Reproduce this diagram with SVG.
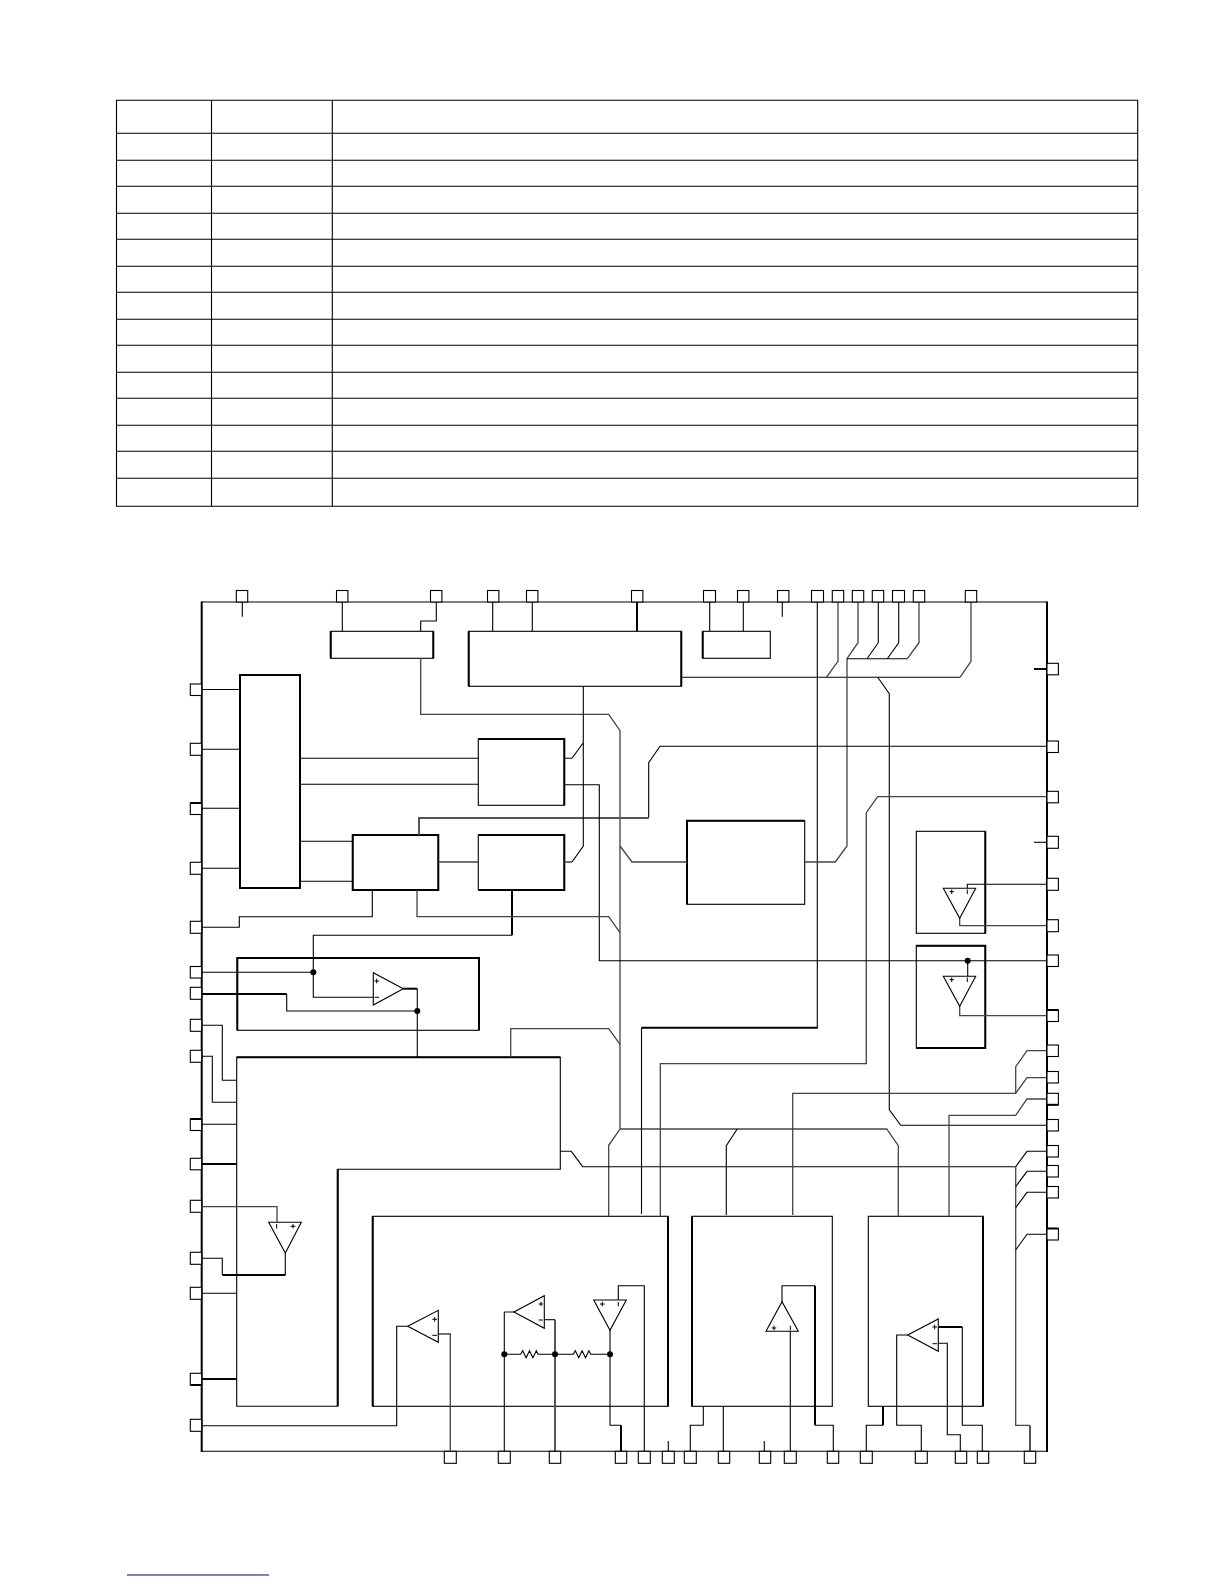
<svg xmlns="http://www.w3.org/2000/svg" width="1224" height="1584" viewBox="0 0 1224 1584">
<style>
.bg{fill:#fff}
path,rect,polygon,line{stroke-linejoin:miter}
.n{fill:#fff;stroke:#000;stroke-width:1.1}
.p{fill:#fff;stroke:#000;stroke-width:1.1}
.t{fill:none;stroke:#000;stroke-width:2}
.c{fill:none;stroke:#000;stroke-width:1.1}
.g{fill:none;stroke:#444;stroke-width:1.3}
.h{fill:none;stroke:#000;stroke-width:2}
.m{fill:none;stroke:#555;stroke-width:2}
.o{fill:none;stroke:#000;stroke-width:1}
.a{fill:#fff;stroke:#000;stroke-width:1.1}
.d{fill:#000}
</style>
<rect class="bg" width="1224" height="1584"/>
<g id="table" class="c">
<path d="M116.5 100.3H1137.7V506.3H116.5ZM211.5 100.3V506.3M332.3 100.3V506.3M116.5 133.3H1137.7M116.5 160.3H1137.7M116.5 186.3H1137.7M116.5 213.3H1137.7M116.5 239.3H1137.7M116.5 266.3H1137.7M116.5 292.3H1137.7M116.5 319.3H1137.7M116.5 345.3H1137.7M116.5 372.3H1137.7M116.5 398.3H1137.7M116.5 425.3H1137.7M116.5 451.3H1137.7M116.5 478.3H1137.7"/>
</g>
<line id="footer-rule" x1="127" y1="1575" x2="269" y2="1575" stroke="#00008b" stroke-width="1.2"/>
<g id="chip-frame">
<path class="c" d="M201.7 602H1047M201.7 1451.3H1047"/>
<path class="t" d="M201.7 601.500V1452M1047 601.500V1452"/>
</g>
<g id="blocks">
<g id="box-a"><rect class="n" x="330.7" y="631.3" width="102.6" height="27"/><path class="t" d="M330.7 631.300V658.300M433.300 631.300V658.300"/></g>
<g id="box-b"><rect class="n" x="468.7" y="631.3" width="212.6" height="55"/><path class="t" d="M468.7 631.300V686.300M681.300 631.300V686.300"/></g>
<g id="box-c"><rect class="n" x="702.7" y="631.3" width="67.6" height="27"/><path class="t" d="M702.7 631.300V658.300"/></g>
<g id="box-j"><rect class="n" x="240" y="675" width="60" height="213"/><path class="t" d="M240 675H300V888H240Z"/></g>
<g id="box-g"><rect class="n" x="478.3" y="739" width="86" height="66.3"/><path class="t" d="M478.3 739H564.300V805.300"/></g>
<g id="box-h"><rect class="n" x="478.3" y="835" width="86" height="55"/><path class="t" d="M478.3 835H564.300V890H478.300"/></g>
<g id="box-i"><rect class="n" x="352.7" y="835" width="85.6" height="55"/><path class="t" d="M352.7 835H438.300V890H352.700Z"/></g>
<g id="box-d"><rect class="n" x="687" y="820.7" width="117.7" height="83.6"/><path class="t" d="M687 904.300V820.700H804.700"/></g>
<g id="box-e"><rect class="n" x="916.3" y="831.3" width="69" height="102"/><path class="t" d="M985.3 831.300V933.300"/></g>
<g id="box-f"><rect class="n" x="916.3" y="945.7" width="69" height="102.3"/><path class="t" d="M916.3 945.700H985.300V1048H916.300"/></g>
<g id="box-l"><rect class="n" x="237.3" y="958" width="241.7" height="72.3"/><path class="t" d="M237.3 1030.300V958H479V1030.300"/></g>
<g id="box-m"><path class="n" d="M236.7 1057.3H560.3V1169.3H337.7V1406.3H236.7Z"/><path class="t" d="M236.7 1057.300H560.300M337.700 1169.300V1406.300"/></g>
<g id="box-p"><rect class="n" x="372.7" y="1216.3" width="295.3" height="190"/><path class="t" d="M372.7 1216.300V1406.300M668 1216.300V1406.300"/></g>
<g id="box-s"><rect class="n" x="692" y="1216.3" width="140.3" height="190"/><path class="t" d="M692 1216.300V1406.300"/></g>
<g id="box-t"><rect class="n" x="868.3" y="1216.3" width="114.7" height="190"/><path class="t" d="M983 1216.300V1406.300"/></g>
</g>
<g id="connectors">
<path class="c" d="M242.3 602V616.7M342.3 602V631.3M492.7 602V631.3M532.3 602V631.3M709.7 602V631.3M743.3 602V631.3M782.3 602V616.7M668.3 1441V1451M764.3 1441V1451"/>
<path class="t" d="M637 602V631.3"/>
<path class="c" d="M436.3 602V621H420.7V631.3"/>
<path class="g" d="M420.7 658.3V714.3H608.7L620 730.7V1129L608.7 1145.3V1216.3"/>
<path class="g" d="M620 1129H886.7L898.3 1145.7V1216.3"/>
<path class="c" d="M737.3 1129L726.3 1145.7V1215"/>
<path class="c" d="M817.3 602V1027.7"/><path class="h" d="M817.8 1027.7H641.5"/><path class="c" d="M641.5 1027.7V1214"/>
<path class="c" d="M681.3 677.3H960"/><path class="g" d="M960 677.3L971 661.3V602M838 602V661.3L826.3 677.3"/>
<path class="g" d="M858 602V642.7L847 658.7V846L835.3 862H804.7"/>
<path class="c" d="M847 658.7H907.3"/><path class="g" d="M907.3 658.7L919 642.7V602"/>
<path class="c" d="M878.3 602V642.7L867 658.7M898.7 602V642.7L887.3 658.7"/>
<path class="g" d="M687 862H632L620 846"/>
<path class="c" d="M877.7 677.3L889.3 693.7V1109.7L900.7 1125.3H1047"/>
<path class="c" d="M1047 746.3H660L648.7 762.7V818"/><path class="m" d="M648.7 818H419V835"/>
<path class="g" d="M1047 796.7H877.7L866.3 812.7V1063.7H660.3V1216.3"/>
<path class="h" d="M1034 669H1047"/><path class="c" d="M1034 842.3H1047"/>
<path class="c" d="M1047 884.3H967.3V888.3"/><path class="g" d="M959.7 918.3V925.7H1047M959.7 1006.3V1015.7H1047"/>
<path class="c" d="M1047 960.7H599.3V784.7H564.3M967.7 960.7V976.3"/>
<path class="c" d="M300 758.3H478.3M300 784.3H478.3M300 841.3H352.7M300 881.3H352.7"/>
<path class="g" d="M438.3 862H478.3M564.3 862H572"/>
<path class="c" d="M572 862L583.3 846V686.3M564.3 758.3H572L583.3 742.7"/>
<path class="h" d="M512 890V935.3"/><path class="c" d="M512 935.3H313.3V997.3H373.3M201.7 972.3H313.3"/>
<path class="h" d="M403.3 988.7H417.3"/><path class="c" d="M417.3 988.7V1057.3"/>
<path class="h" d="M201.7 994H286.7"/><path class="c" d="M286.7 994V1011H417.3"/>
<path class="c" d="M201.7 689.5H240M201.7 749.3H240M201.7 808.3H240M201.7 868.3H240"/>
<path class="c" d="M201.7 927.3H239.3V916.7H372.3V890"/>
<path class="g" d="M417 890V916.7H608.7L620 932.7"/>
<path class="c" d="M201.7 1025.3H222.3V1080.3H236.7M201.7 1056.3H212.3V1102.3H236.7M201.7 1124.3H236.7M201.7 1293.3H236.7"/>
<path class="h" d="M201.7 1164H236.7M201.7 1379H236.7"/>
<path class="g" d="M201.7 1206.7H277V1222.3"/>
<path class="c" d="M285.3 1253V1275"/><path class="h" d="M285.3 1275H222.3"/><path class="c" d="M222.3 1275V1258.3H201.7"/>
<path class="c" d="M201.7 1425.7H396.7V1326.3H407.7"/>
<path class="g" d="M438.3 1334H450.3V1451"/>
<path class="g" d="M514 1312H504.3"/><path class="c" d="M504.3 1312V1451"/>
<path class="c" d="M544.3 1319.7H555"/><path class="m" d="M555 1319.7V1451"/>
<path class="c" d="M504.3 1354.3H520.7l2-3.5 3.400 7 3.400-7 3.400 7 3.400-7 1.700 3.500H573.300l2-3.500 3.400 7 3.400-7 3.400 7 3.400-7 1.800 3.500H610"/>
<path class="c" d="M610 1330.3V1425.3H621"/><path class="h" d="M621 1425.3V1451"/>
<path class="c" d="M618.3 1300V1285.7H644.3V1451"/>
<path class="c" d="M782 1301.700V1285.7H815"/><path class="h" d="M815 1285.7V1425.3"/><path class="c" d="M815 1425.3H833.3V1451M790.3 1331.3V1451"/>
<path class="c" d="M703.3 1406.3V1425.3H690.3V1451M723.3 1406.3V1451"/>
<path class="h" d="M883 1406.3V1425.3"/><path class="c" d="M883 1425.3H866.3V1451"/>
<path class="c" d="M907.700 1335H896.700V1425.3H921.3V1451"/>
<path class="h" d="M938.3 1327H962.3"/><path class="c" d="M962.3 1327V1425.3H982.3V1451"/>
<path class="c" d="M938.3 1343.3H947.3V1434.7H960.3V1451"/>
<path class="g" d="M1015.7 1166.7V1425.3H1030"/><path class="m" d="M1030 1425.3V1451"/>
<path class="c" d="M1015.7 1166.7H582.7L571.3 1151.3H560.3"/>
<path class="c" d="M1047 1151.3H1027L1015.7 1166.7M1047 1171.3H1027L1015.7 1186.7M1047 1192.3H1027L1015.7 1207.7M1047 1234.3H1027L1015.7 1250"/>
<path class="g" d="M1047 1050.7H1027L1015.7 1066.7V1093.3"/>
<path class="g" d="M1047 1077.7H1027L1015.7 1093.3H792.7V1215"/>
<path class="g" d="M1047 1099H1027L1015.7 1115.3H949V1216.3"/>
<path class="g" d="M510.700 1057.3V1028.7H608.7L620 1044.3"/>
</g>
<g id="amp-k"><polygon class="a" points="373.300,972.700 373.300,1005 403.300,988.700"/><path class="o" d="M374.500 981H379M376.700 978.700V983.300M374.500 997.300H379"/></g>
<g id="amp-n"><polygon class="a" points="268.700,1222.300 301.300,1222.300 285.300,1253"/><path class="o" d="M276.700 1224V1228.500M290.500 1226.300H295.500M293 1224V1228.500"/></g>
<g id="amp-o"><polygon class="a" points="407.700,1326.300 438.300,1310.300 438.300,1342.300"/><path class="o" d="M432.300 1319.300H437M434.700 1317V1321.600M432.300 1335.300H437"/></g>
<g id="amp-q"><polygon class="a" points="514,1312 544.300,1295.700 544.300,1328.300"/><path class="o" d="M538.700 1304H543M541 1301.700V1306.300M538.700 1320H543"/></g>
<g id="amp-r"><polygon class="a" points="593.700,1300 626.300,1300 610,1330.300"/><path class="o" d="M600 1304H604.700M602.300 1301.700V1306.300M618.300 1302V1306.300"/></g>
<g id="amp-u"><polygon class="a" points="782,1301.700 766,1331.300 798.300,1331.300"/><path class="o" d="M771.700 1328H776.300M774 1325.700V1330.300M790.300 1325.700V1330.300"/></g>
<g id="amp-v"><polygon class="a" points="907.700,1335 938.300,1319 938.300,1351.300"/><path class="o" d="M932.500 1327H937M934.700 1324.700V1329.300M932.500 1343.700H937"/></g>
<g id="amp-e"><polygon class="a" points="943.300,888.300 975.700,888.300 959.700,918.300"/><path class="o" d="M949.500 891.700H954M951.700 889.500V894M967.300 889.500V894"/></g>
<g id="amp-f"><polygon class="a" points="943.300,976.300 975.700,976.300 959.700,1006.300"/><path class="o" d="M949.500 979.700H954M951.700 977.500V982M967.300 977.500V982"/></g>
<g id="junctions" class="d">
<circle cx="313.300" cy="972.300" r="3"/><circle cx="417.300" cy="1011" r="3"/><circle cx="967.700" cy="960.700" r="3"/>
<circle cx="504.300" cy="1354.300" r="3"/><circle cx="555" cy="1354.300" r="3"/><circle cx="610" cy="1354.300" r="3"/>
</g>
<g id="pins-top" class="p">
<g id="pt1"><rect x="236.300" y="590.500" width="11.400" height="11.500"/></g>
<g id="pt2"><rect x="336.500" y="590.500" width="11.400" height="11.500"/></g>
<g id="pt3"><rect x="430.500" y="590.500" width="11.400" height="11.500"/></g>
<g id="pt4"><rect x="487.500" y="590.500" width="11.400" height="11.500"/></g>
<g id="pt5"><rect x="526.500" y="590.500" width="11.400" height="11.500"/></g>
<g id="pt6"><rect x="631.500" y="590.500" width="11.400" height="11.500"/></g>
<g id="pt7"><rect x="703.500" y="590.500" width="12" height="11.500"/></g>
<g id="pt8"><rect x="737.500" y="590.500" width="11.400" height="11.500"/></g>
<g id="pt9"><rect x="777.500" y="590.500" width="11.400" height="11.500"/></g>
<g id="pt10"><rect x="811.500" y="590.500" width="12" height="11.500"/></g>
<g id="pt11"><rect x="832.300" y="590.500" width="11.400" height="11.500"/></g>
<g id="pt12"><rect x="852.300" y="590.500" width="11.400" height="11.500"/></g>
<g id="pt13"><rect x="872.300" y="590.500" width="11.400" height="11.500"/></g>
<g id="pt14"><rect x="892.500" y="590.500" width="12" height="11.500"/></g>
<g id="pt15"><rect x="913.300" y="590.500" width="11.400" height="11.500"/></g>
<g id="pt16"><rect x="965.300" y="590.500" width="11.400" height="11.500"/></g>
</g>
<g id="pins-left" class="p">
<g id="pl1"><rect x="190.300" y="684" width="11.400" height="11.500"/></g>
<g id="pl2"><rect x="190.300" y="743.300" width="11.400" height="12"/></g>
<g id="pl3"><rect x="190.300" y="803" width="11.400" height="11.500"/><path class="h" d="M190.300 803H201.700"/></g>
<g id="pl4"><rect x="190.300" y="862.300" width="11.400" height="12"/></g>
<g id="pl5"><rect x="190.300" y="921.300" width="11.400" height="12"/></g>
<g id="pl6"><rect x="190.300" y="966.500" width="11.400" height="11.500"/></g>
<g id="pl7"><rect x="190.300" y="987.300" width="11.400" height="12"/></g>
<g id="pl8"><rect x="190.300" y="1019.300" width="11.400" height="12"/></g>
<g id="pl9"><rect x="190.300" y="1050.300" width="11.400" height="12"/></g>
<g id="pl10"><rect x="190.300" y="1119" width="11.400" height="11.500"/><path class="h" d="M190.300 1119H201.700"/></g>
<g id="pl11"><rect x="190.300" y="1158.300" width="11.400" height="11.500"/></g>
<g id="pl12"><rect x="190.300" y="1200.300" width="11.400" height="12"/></g>
<g id="pl13"><rect x="190.300" y="1252.300" width="11.400" height="12"/></g>
<g id="pl14"><rect x="190.300" y="1287.300" width="11.400" height="12"/></g>
<g id="pl15"><rect x="190.300" y="1373.300" width="11.400" height="11.500"/><path class="h" d="M190.300 1385H201.700"/></g>
<g id="pl16"><rect x="190.300" y="1419.300" width="11.400" height="12"/></g>
</g>
<g id="pins-right" class="p">
<g id="pr1"><rect x="1047" y="663.300" width="11.400" height="11.500"/></g>
<g id="pr2"><rect x="1047" y="741" width="11.400" height="11.500"/></g>
<g id="pr3"><rect x="1047" y="791.300" width="11.400" height="11.500"/></g>
<g id="pr4"><rect x="1047" y="836.300" width="11.400" height="12"/></g>
<g id="pr5"><rect x="1047" y="878.300" width="11.400" height="12"/></g>
<g id="pr6"><rect x="1047" y="919.700" width="11.400" height="12"/></g>
<g id="pr7"><rect x="1047" y="955" width="11.400" height="11.500"/></g>
<g id="pr8"><rect x="1047" y="1010" width="11.400" height="11.500"/><path class="h" d="M1047 1010H1058.400"/></g>
<g id="pr9"><rect x="1047" y="1045" width="11.400" height="11.500"/></g>
<g id="pr10"><rect x="1047" y="1071.500" width="11.400" height="11.500"/></g>
<g id="pr11"><rect x="1047" y="1093.300" width="11.400" height="11.500"/><path class="h" d="M1047 1104.800H1058.400"/></g>
<g id="pr12"><rect x="1047" y="1119.500" width="11.400" height="11.500"/></g>
<g id="pr13"><rect x="1047" y="1145.500" width="11.400" height="11.500"/></g>
<g id="pr14"><rect x="1047" y="1165.500" width="11.400" height="11.500"/></g>
<g id="pr15"><rect x="1047" y="1186.500" width="11.400" height="11.500"/></g>
<g id="pr16"><rect x="1047" y="1228.500" width="11.400" height="11.500"/><path class="h" d="M1047 1228.500H1058.400"/></g>
</g>
<g id="pins-bottom" class="p">
<g id="pb1"><rect x="444.300" y="1451.300" width="12" height="12"/></g>
<g id="pb2"><rect x="498.300" y="1451.300" width="12" height="12"/></g>
<g id="pb3"><rect x="549.300" y="1451.300" width="11.400" height="12"/></g>
<g id="pb4"><rect x="615.300" y="1451.300" width="11.400" height="12"/></g>
<g id="pb5"><rect x="638.300" y="1451.300" width="12" height="12"/></g>
<g id="pb6"><rect x="662.300" y="1451.300" width="12" height="12"/></g>
<g id="pb7"><rect x="684.300" y="1451.300" width="12" height="12"/></g>
<g id="pb8"><rect x="718.300" y="1451.300" width="11.400" height="12"/></g>
<g id="pb9"><rect x="759.300" y="1451.300" width="11.400" height="12"/></g>
<g id="pb10"><rect x="784.300" y="1451.300" width="12" height="12"/></g>
<g id="pb11"><rect x="827.300" y="1451.300" width="11.400" height="12"/></g>
<g id="pb12"><rect x="860.300" y="1451.300" width="12" height="12"/></g>
<g id="pb13"><rect x="915.300" y="1451.300" width="12" height="12"/></g>
<g id="pb14"><rect x="955.300" y="1451.300" width="11.400" height="12"/></g>
<g id="pb15"><rect x="977.300" y="1451.300" width="11.400" height="12"/></g>
<g id="pb16"><rect x="1024.300" y="1451.300" width="11.400" height="12"/></g>
</g>
</svg>
